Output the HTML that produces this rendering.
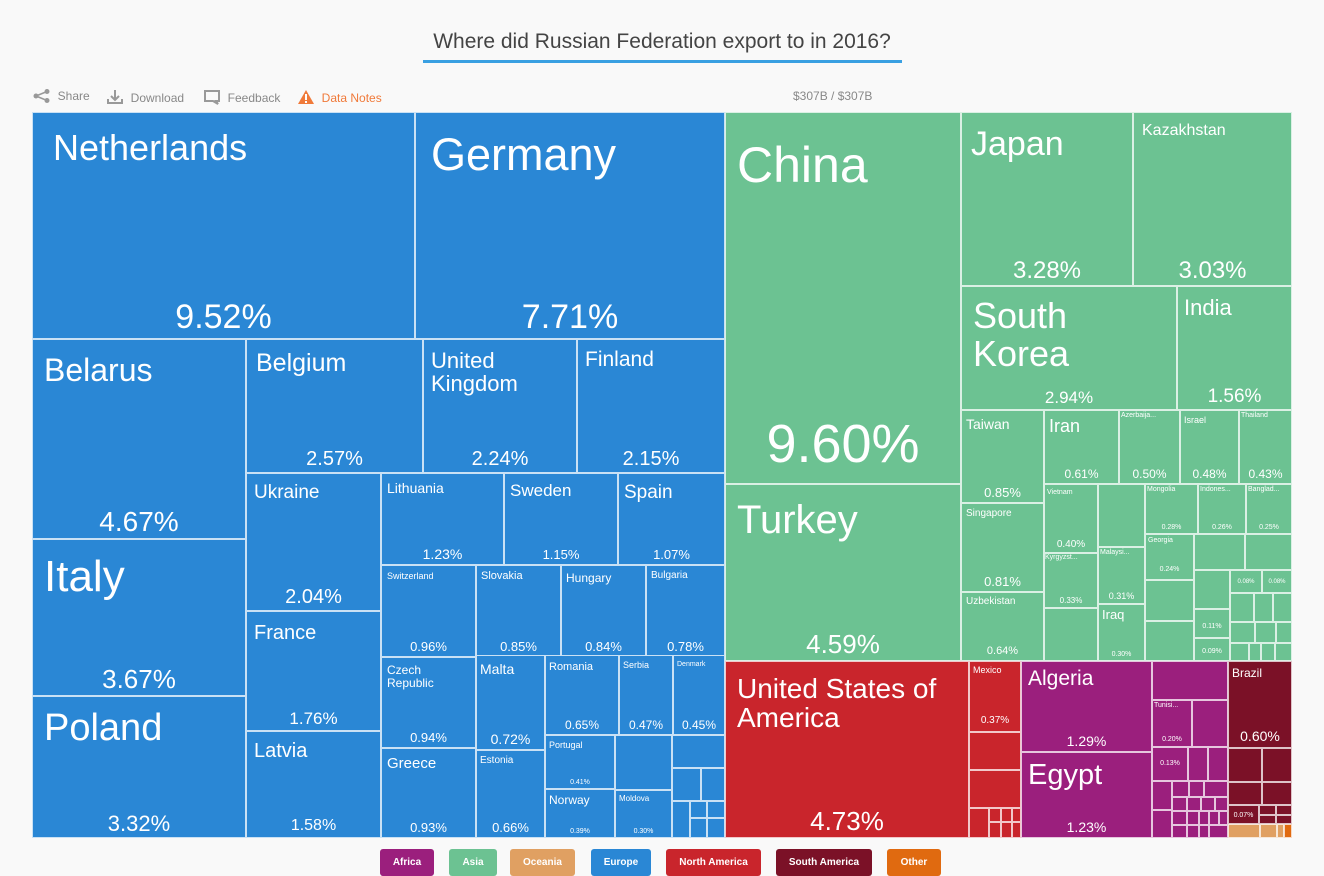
<!DOCTYPE html>
<html><head><meta charset="utf-8"><style>
body{margin:0;width:1324px;height:876px;background:#f9f9f9;font-family:"Liberation Sans",sans-serif;position:relative;overflow:hidden}
.t{position:absolute;left:0;width:1324px;top:30px;text-align:center;font-size:21px;color:#444}
.u{position:absolute;left:423px;top:60px;width:479px;height:3px;background:#3aa0e2}
.tb{position:absolute;top:89px;font-size:12px;color:#888}
.r{position:absolute;box-sizing:border-box;border:1px solid rgba(255,255,255,.75);color:#fff;overflow:hidden;line-height:1.05;white-space:nowrap}
.e{background:#2a87d5}.a{background:#6cc292}.na{background:#c9252c}.af{background:#9b1f7d}.sa{background:#7b1127}.oc{background:#e0a062}.ot{background:#e06a10}
.r span{position:absolute;left:6px;top:6px}
.r b{font-weight:normal;position:absolute;left:0;right:0;text-align:center;bottom:2px}
.lg{position:absolute;top:849px;height:27px;border-radius:3px;color:#fff;font-size:10px;font-weight:bold;text-align:center;line-height:27px}
</style></head><body>
<div class="t">Where did Russian Federation export to in 2016?</div>
<div class="u"></div>
<div class="tb" style="left:33px"><svg width="18" height="14" style="vertical-align:-3px"><circle cx="3" cy="7" r="2.5" fill="#999"/><circle cx="14" cy="2.5" r="2.5" fill="#999"/><circle cx="14" cy="11.5" r="2.5" fill="#999"/><path d="M3 7L14 2.5M3 7L14 11.5" stroke="#999" stroke-width="1.5"/></svg>&nbsp; Share</div>
<div class="tb" style="left:106px"><svg width="18" height="16" style="vertical-align:-3px"><path d="M9 1v10M5 7l4 4 4-4M2 10v4h14v-4" stroke="#999" stroke-width="2" fill="none"/></svg>&nbsp; Download</div>
<div class="tb" style="left:203px"><svg width="18" height="16" style="vertical-align:-3px"><path d="M2 2h14v10h-3l2 3-5-3H2z" stroke="#999" stroke-width="2" fill="none"/></svg>&nbsp; Feedback</div>
<div class="tb" style="left:297px;color:#f07a3a"><svg width="18" height="16" style="vertical-align:-3px"><path d="M9 1L17 15H1z" fill="#f07a3a"/><rect x="8" y="5" width="2" height="6" fill="#fff"/><rect x="8" y="12" width="2" height="2" fill="#fff"/></svg>&nbsp; Data Notes</div>
<div class="tb" style="left:793px">$307B / $307B</div>

<!-- Europe -->
<div class="r e" style="left:32px;top:112px;width:383px;height:227px"><span style="font-size:36px;left:20px;top:16px">Netherlands</span><b style="font-size:34px">9.52%</b></div>
<div class="r e" style="left:415px;top:112px;width:310px;height:227px"><span style="font-size:45px;left:15px;top:18px">Germany</span><b style="font-size:34px">7.71%</b></div>
<div class="r e" style="left:32px;top:339px;width:214px;height:200px"><span style="font-size:32px;left:11px;top:14px">Belarus</span><b style="font-size:28px">4.67%</b></div>
<div class="r e" style="left:32px;top:539px;width:214px;height:157px"><span style="font-size:44px;left:11px;top:14px">Italy</span><b style="font-size:26px">3.67%</b></div>
<div class="r e" style="left:32px;top:696px;width:214px;height:142px"><span style="font-size:38px;left:11px;top:12px">Poland</span><b style="font-size:22px">3.32%</b></div>
<div class="r e" style="left:246px;top:339px;width:177px;height:134px"><span style="font-size:25px;left:9px;top:10px">Belgium</span><b style="font-size:20px">2.57%</b></div>
<div class="r e" style="left:423px;top:339px;width:154px;height:134px"><span style="font-size:22px;left:7px;top:9px">United<br>Kingdom</span><b style="font-size:20px">2.24%</b></div>
<div class="r e" style="left:577px;top:339px;width:148px;height:134px"><span style="font-size:21px;left:7px;top:9px">Finland</span><b style="font-size:20px">2.15%</b></div>
<div class="r e" style="left:246px;top:473px;width:135px;height:138px"><span style="font-size:19px;left:7px;top:9px">Ukraine</span><b style="font-size:20px">2.04%</b></div>
<div class="r e" style="left:246px;top:611px;width:135px;height:120px"><span style="font-size:20px;left:7px;top:11px">France</span><b style="font-size:17px">1.76%</b></div>
<div class="r e" style="left:246px;top:731px;width:135px;height:107px"><span style="font-size:20px;left:7px;top:9px">Latvia</span><b style="font-size:16px">1.58%</b></div>
<div class="r e" style="left:381px;top:473px;width:123px;height:92px"><span style="font-size:14px;left:5px;top:7px">Lithuania</span><b style="font-size:14px">1.23%</b></div>
<div class="r e" style="left:504px;top:473px;width:114px;height:92px"><span style="font-size:17px;left:5px;top:8px">Sweden</span><b style="font-size:13px">1.15%</b></div>
<div class="r e" style="left:618px;top:473px;width:107px;height:92px"><span style="font-size:19px;left:5px;top:9px">Spain</span><b style="font-size:13px">1.07%</b></div>
<div class="r e" style="left:381px;top:565px;width:95px;height:92px"><span style="font-size:9px;left:5px;top:6px">Switzerland</span><b style="font-size:13px">0.96%</b></div>
<div class="r e" style="left:476px;top:565px;width:85px;height:92px"><span style="font-size:11px;left:4px;top:5px">Slovakia</span><b style="font-size:13px">0.85%</b></div>
<div class="r e" style="left:561px;top:565px;width:85px;height:92px"><span style="font-size:12px;left:4px;top:6px">Hungary</span><b style="font-size:13px">0.84%</b></div>
<div class="r e" style="left:646px;top:565px;width:79px;height:92px"><span style="font-size:10px;left:4px;top:5px">Bulgaria</span><b style="font-size:13px">0.78%</b></div>
<div class="r e" style="left:381px;top:657px;width:95px;height:91px"><span style="font-size:12px;left:5px;top:6px">Czech<br>Republic</span><b style="font-size:13px">0.94%</b></div>
<div class="r e" style="left:381px;top:748px;width:95px;height:90px"><span style="font-size:15px;left:5px;top:7px">Greece</span><b style="font-size:13px">0.93%</b></div>
<div class="r e" style="left:476px;top:655px;width:69px;height:95px"><span style="font-size:14px;left:3px;top:6px">Malta</span><b style="font-size:14px">0.72%</b></div>
<div class="r e" style="left:476px;top:750px;width:69px;height:88px"><span style="font-size:10px;left:3px;top:5px">Estonia</span><b style="font-size:13px">0.66%</b></div>
<div class="r e" style="left:545px;top:655px;width:74px;height:80px"><span style="font-size:11px;left:3px;top:6px">Romania</span><b style="font-size:12px">0.65%</b></div>
<div class="r e" style="left:619px;top:655px;width:54px;height:80px"><span style="font-size:9px;left:3px;top:5px">Serbia</span><b style="font-size:12px">0.47%</b></div>
<div class="r e" style="left:673px;top:655px;width:52px;height:80px"><span style="font-size:7px;left:3px;top:5px">Denmark</span><b style="font-size:12px">0.45%</b></div>
<div class="r e" style="left:545px;top:735px;width:70px;height:54px"><span style="font-size:9px;left:3px;top:5px">Portugal</span><b style="font-size:7px">0.41%</b></div>
<div class="r e" style="left:615px;top:735px;width:57px;height:55px"></div>
<div class="r e" style="left:545px;top:789px;width:70px;height:49px"><span style="font-size:12px;left:3px;top:4px">Norway</span><b style="font-size:7px">0.39%</b></div>
<div class="r e" style="left:615px;top:790px;width:57px;height:48px"><span style="font-size:8px;left:3px;top:4px">Moldova</span><b style="font-size:7px">0.30%</b></div>
<div class="r e" style="left:672px;top:735px;width:53px;height:33px"></div>
<div class="r e" style="left:672px;top:768px;width:29px;height:33px"></div>
<div class="r e" style="left:701px;top:768px;width:24px;height:33px"></div>
<div class="r e" style="left:672px;top:801px;width:18px;height:37px"></div>
<div class="r e" style="left:690px;top:801px;width:17px;height:17px"></div>
<div class="r e" style="left:707px;top:801px;width:18px;height:17px"></div>
<div class="r e" style="left:690px;top:818px;width:17px;height:20px"></div>
<div class="r e" style="left:707px;top:818px;width:18px;height:20px"></div>

<!-- Asia -->
<div class="r a" style="left:725px;top:112px;width:236px;height:372px"><span style="font-size:50px;left:11px;top:26px">China</span><b style="font-size:54px;bottom:10px">9.60%</b></div>
<div class="r a" style="left:725px;top:484px;width:236px;height:177px"><span style="font-size:40px;left:11px;top:14px">Turkey</span><b style="font-size:26px">4.59%</b></div>
<div class="r a" style="left:961px;top:112px;width:172px;height:174px"><span style="font-size:34px;left:9px;top:14px">Japan</span><b style="font-size:24px">3.28%</b></div>
<div class="r a" style="left:1133px;top:112px;width:159px;height:174px"><span style="font-size:16px;left:8px;top:10px">Kazakhstan</span><b style="font-size:24px">3.03%</b></div>
<div class="r a" style="left:961px;top:286px;width:216px;height:124px"><span style="font-size:36px;left:11px;top:10px">South<br>Korea</span><b style="font-size:17px">2.94%</b></div>
<div class="r a" style="left:1177px;top:286px;width:115px;height:124px"><span style="font-size:22px;left:6px;top:9px">India</span><b style="font-size:19px">1.56%</b></div>
<div class="r a" style="left:961px;top:410px;width:83px;height:93px"><span style="font-size:14px;left:4px;top:6px">Taiwan</span><b style="font-size:13px">0.85%</b></div>
<div class="r a" style="left:961px;top:503px;width:83px;height:89px"><span style="font-size:10px;left:4px;top:5px">Singapore</span><b style="font-size:13px">0.81%</b></div>
<div class="r a" style="left:961px;top:592px;width:83px;height:69px"><span style="font-size:10px;left:4px;top:4px">Uzbekistan</span><b style="font-size:11px">0.64%</b></div>
<div class="r a" style="left:1044px;top:410px;width:75px;height:74px"><span style="font-size:18px;left:4px;top:6px">Iran</span><b style="font-size:12px">0.61%</b></div>
<div class="r a" style="left:1119px;top:410px;width:61px;height:74px"><span style="font-size:7px;left:1px;top:1px">Azerbaija...</span><b style="font-size:12px">0.50%</b></div>
<div class="r a" style="left:1180px;top:410px;width:59px;height:74px"><span style="font-size:9px;left:3px;top:5px">Israel</span><b style="font-size:12px">0.48%</b></div>
<div class="r a" style="left:1239px;top:410px;width:53px;height:74px"><span style="font-size:7px;left:1px;top:1px">Thailand</span><b style="font-size:12px">0.43%</b></div>
<div class="r a" style="left:1044px;top:484px;width:54px;height:69px"><span style="font-size:7px;left:2px;top:4px">Vietnam</span><b style="font-size:10px">0.40%</b></div>
<div class="r a" style="left:1044px;top:553px;width:54px;height:55px"><span style="font-size:7px;left:0;top:0">Kyrgyzst...</span><b style="font-size:8px">0.33%</b></div>
<div class="r a" style="left:1044px;top:608px;width:54px;height:53px"></div>
<div class="r a" style="left:1098px;top:484px;width:47px;height:63px"></div>
<div class="r a" style="left:1098px;top:547px;width:47px;height:57px"><span style="font-size:7px;left:1px;top:1px">Malaysi...</span><b style="font-size:9px">0.31%</b></div>
<div class="r a" style="left:1098px;top:604px;width:47px;height:57px"><span style="font-size:13px;left:3px;top:3px">Iraq</span><b style="font-size:7px">0.30%</b></div>
<div class="r a" style="left:1145px;top:484px;width:53px;height:50px"><span style="font-size:7px;left:1px;top:1px">Mongolia</span><b style="font-size:7px">0.28%</b></div>
<div class="r a" style="left:1198px;top:484px;width:48px;height:50px"><span style="font-size:7px;left:1px;top:1px">Indones...</span><b style="font-size:7px">0.26%</b></div>
<div class="r a" style="left:1246px;top:484px;width:46px;height:50px"><span style="font-size:7px;left:1px;top:1px">Banglad...</span><b style="font-size:7px">0.25%</b></div>
<div class="r a" style="left:1145px;top:534px;width:49px;height:46px"><span style="font-size:7px;left:2px;top:2px">Georgia</span><b style="font-size:7px;bottom:6px">0.24%</b></div>
<div class="r a" style="left:1145px;top:580px;width:49px;height:41px"></div>
<div class="r a" style="left:1145px;top:621px;width:49px;height:40px"></div>
<div class="r a" style="left:1194px;top:534px;width:51px;height:36px"></div>
<div class="r a" style="left:1245px;top:534px;width:47px;height:36px"></div>
<div class="r a" style="left:1194px;top:570px;width:36px;height:39px"></div>
<div class="r a" style="left:1194px;top:609px;width:36px;height:29px"><b style="font-size:7px;bottom:7px">0.11%</b></div>
<div class="r a" style="left:1194px;top:638px;width:36px;height:23px"><b style="font-size:7px;bottom:5px">0.09%</b></div>
<div class="r a" style="left:1230px;top:570px;width:32px;height:23px"><b style="font-size:6px;bottom:7px">0.08%</b></div>
<div class="r a" style="left:1262px;top:570px;width:30px;height:23px"><b style="font-size:6px;bottom:7px">0.08%</b></div>
<div class="r a" style="left:1230px;top:593px;width:24px;height:29px"></div>
<div class="r a" style="left:1254px;top:593px;width:19px;height:29px"></div>
<div class="r a" style="left:1273px;top:593px;width:19px;height:29px"></div>
<div class="r a" style="left:1230px;top:622px;width:25px;height:21px"></div>
<div class="r a" style="left:1255px;top:622px;width:21px;height:21px"></div>
<div class="r a" style="left:1276px;top:622px;width:16px;height:21px"></div>
<div class="r a" style="left:1230px;top:643px;width:19px;height:18px"></div>
<div class="r a" style="left:1249px;top:643px;width:12px;height:18px"></div>
<div class="r a" style="left:1261px;top:643px;width:14px;height:18px"></div>
<div class="r a" style="left:1275px;top:643px;width:17px;height:18px"></div>

<!-- North America -->
<div class="r na" style="left:725px;top:661px;width:244px;height:177px"><span style="font-size:28px;left:11px;top:12px">United States of<br>America</span><b style="font-size:26px">4.73%</b></div>
<div class="r na" style="left:969px;top:661px;width:52px;height:71px"><span style="font-size:9px;left:3px;top:4px">Mexico</span><b style="font-size:10px;bottom:5px">0.37%</b></div>
<div class="r na" style="left:969px;top:732px;width:52px;height:38px"></div>
<div class="r na" style="left:969px;top:770px;width:52px;height:38px"></div>
<div class="r na" style="left:969px;top:808px;width:20px;height:30px"></div>
<div class="r na" style="left:989px;top:808px;width:12px;height:14px"></div>
<div class="r na" style="left:1001px;top:808px;width:11px;height:14px"></div>
<div class="r na" style="left:1012px;top:808px;width:9px;height:14px"></div>
<div class="r na" style="left:989px;top:822px;width:12px;height:16px"></div>
<div class="r na" style="left:1001px;top:822px;width:11px;height:16px"></div>
<div class="r na" style="left:1012px;top:822px;width:9px;height:16px"></div>

<!-- Africa -->
<div class="r af" style="left:1021px;top:661px;width:131px;height:91px"><span style="font-size:21px;left:6px;top:6px">Algeria</span><b style="font-size:14px">1.29%</b></div>
<div class="r af" style="left:1021px;top:752px;width:131px;height:86px"><span style="font-size:29px;left:6px;top:7px">Egypt</span><b style="font-size:14px">1.23%</b></div>
<div class="r af" style="left:1152px;top:661px;width:76px;height:39px"></div>
<div class="r af" style="left:1152px;top:700px;width:40px;height:47px"><span style="font-size:7px;left:1px;top:1px">Tunisi...</span><b style="font-size:7px;bottom:3px">0.20%</b></div>
<div class="r af" style="left:1192px;top:700px;width:36px;height:47px"></div>
<div class="r af" style="left:1152px;top:747px;width:36px;height:34px"><b style="font-size:7px;bottom:13px">0.13%</b></div>
<div class="r af" style="left:1188px;top:747px;width:20px;height:34px"></div>
<div class="r af" style="left:1208px;top:747px;width:20px;height:34px"></div>
<div class="r af" style="left:1152px;top:781px;width:20px;height:29px"></div>
<div class="r af" style="left:1152px;top:810px;width:20px;height:28px"></div>
<div class="r af" style="left:1172px;top:781px;width:17px;height:16px"></div>
<div class="r af" style="left:1189px;top:781px;width:15px;height:16px"></div>
<div class="r af" style="left:1204px;top:781px;width:24px;height:16px"></div>
<div class="r af" style="left:1172px;top:797px;width:15px;height:14px"></div>
<div class="r af" style="left:1187px;top:797px;width:14px;height:14px"></div>
<div class="r af" style="left:1201px;top:797px;width:14px;height:14px"></div>
<div class="r af" style="left:1215px;top:797px;width:13px;height:14px"></div>
<div class="r af" style="left:1172px;top:811px;width:15px;height:14px"></div>
<div class="r af" style="left:1187px;top:811px;width:12px;height:14px"></div>
<div class="r af" style="left:1199px;top:811px;width:10px;height:14px"></div>
<div class="r af" style="left:1209px;top:811px;width:10px;height:14px"></div>
<div class="r af" style="left:1219px;top:811px;width:9px;height:14px"></div>
<div class="r af" style="left:1172px;top:825px;width:15px;height:13px"></div>
<div class="r af" style="left:1187px;top:825px;width:12px;height:13px"></div>
<div class="r af" style="left:1199px;top:825px;width:10px;height:13px"></div>
<div class="r af" style="left:1209px;top:825px;width:19px;height:13px"></div>

<!-- South America -->
<div class="r sa" style="left:1228px;top:661px;width:64px;height:87px"><span style="font-size:12px;left:3px;top:5px">Brazil</span><b style="font-size:14px;bottom:3px">0.60%</b></div>
<div class="r sa" style="left:1228px;top:748px;width:34px;height:34px"></div>
<div class="r sa" style="left:1262px;top:748px;width:30px;height:34px"></div>
<div class="r sa" style="left:1228px;top:782px;width:34px;height:23px"></div>
<div class="r sa" style="left:1262px;top:782px;width:30px;height:23px"></div>
<div class="r sa" style="left:1228px;top:805px;width:31px;height:19px"><b style="font-size:7px;bottom:4px">0.07%</b></div>
<div class="r sa" style="left:1259px;top:805px;width:17px;height:10px"></div>
<div class="r sa" style="left:1276px;top:805px;width:16px;height:10px"></div>
<div class="r sa" style="left:1259px;top:815px;width:17px;height:9px"></div>
<div class="r sa" style="left:1276px;top:815px;width:16px;height:9px"></div>
<div class="r oc" style="left:1228px;top:824px;width:32px;height:14px"></div>
<div class="r oc" style="left:1260px;top:824px;width:17px;height:14px"></div>
<div class="r oc" style="left:1277px;top:824px;width:7px;height:14px"></div>
<div class="r ot" style="left:1284px;top:824px;width:8px;height:14px"></div>

<!-- Legend -->
<div class="lg af" style="left:380px;width:54px">Africa</div>
<div class="lg a" style="left:449px;width:48px">Asia</div>
<div class="lg oc" style="left:510px;width:65px">Oceania</div>
<div class="lg e" style="left:591px;width:60px">Europe</div>
<div class="lg na" style="left:666px;width:95px">North America</div>
<div class="lg sa" style="left:776px;width:96px">South America</div>
<div class="lg ot" style="left:887px;width:54px">Other</div>
</body></html>
